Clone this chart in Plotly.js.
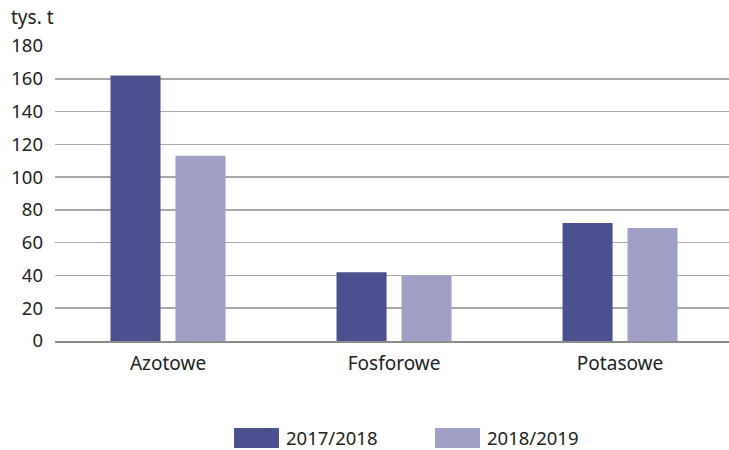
<!DOCTYPE html>
<html><head><meta charset="utf-8">
<script src="https://cdn.plot.ly/plotly-3.0.1.min.js"></script>
<style>html,body{margin:0;padding:0;background:#fff}#chart{width:729px;height:450px}</style>
</head><body><div id="chart"></div>
<script>
const categories = ["Azotowe", "Fosforowe", "Potasowe"];
const seriesNames = ["2017/2018", "2018/2019"];
const values2017 = [162, 42, 72];
const values2018 = [113, 40, 69];
const colors = ["#4b518f", "#a09fc7"];
const yTicks = [0, 20, 40, 60, 80, 100, 120, 140, 160, 180];
const unitLabel = "tys. t";

const FONT = "Noto Sans, Open Sans, sans-serif";
const traces = [
  {type: "bar", x: categories, y: values2017, name: seriesNames[0], marker: {color: colors[0]}, showlegend: false},
  {type: "bar", x: categories, y: values2018, name: seriesNames[1], marker: {color: colors[1]}, showlegend: false}
];

const legendX = [[0.2656, 0.3323, 0.3412], [0.5638, 0.6306, 0.6395]];
const shapes = [], annotations = [];
seriesNames.forEach((n, i) => {
  shapes.push({type: "rect", xref: "paper", yref: "paper", x0: legendX[i][0], x1: legendX[i][1], y0: -0.363, y1: -0.295, fillcolor: colors[i], line: {width: 0}});
  annotations.push({xref: "paper", yref: "paper", x: legendX[i][2], y: -0.327, xanchor: "left", yanchor: "middle", borderpad: 0, text: n, showarrow: false, font: {family: FONT, size: 18.5, color: "#222"}});
});
annotations.push({xref: "paper", yref: "paper", x: -0.068, y: 1.098, xanchor: "left", yanchor: "middle", text: unitLabel, showarrow: false, font: {family: FONT, size: 19, color: "#222"}});

const layout = {
  width: 729, height: 450,
  margin: {l: 55, r: 0, t: 46, b: 109},
  paper_bgcolor: "#fff", plot_bgcolor: "#fff",
  font: {family: FONT, size: 19, color: "#222"},
  barmode: "group", bargap: 0.425, bargroupgap: 0.23,
  xaxis: {range: [-0.5, 2.482], showgrid: false, showline: true, linecolor: "#8a8a8a", linewidth: 2, ticks: "", ticklabelstandoff: 4, tickfont: {size: 19, color: "#222"}, fixedrange: true},
  yaxis: {range: [0, 180], tickvals: yTicks, showgrid: true, gridcolor: "#a8a8a8", gridwidth: 1.5, zeroline: false, showline: false, ticks: "", ticklabelstandoff: 11, tickfont: {size: 18.5, color: "#222"}, fixedrange: true},
  shapes: shapes, annotations: annotations, showlegend: false
};
Plotly.newPlot("chart", traces, layout, {displayModeBar: false, staticPlot: true});
</script></body></html>
